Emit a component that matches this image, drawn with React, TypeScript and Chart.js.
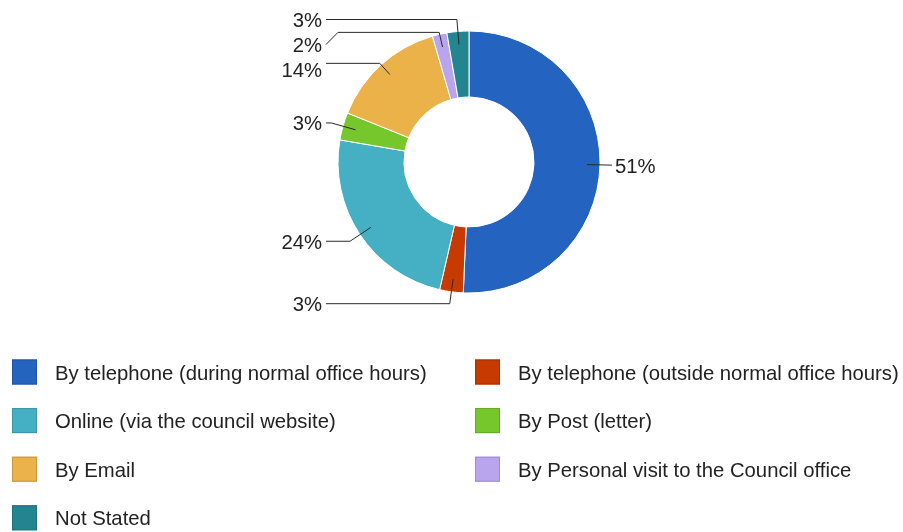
import React, { useEffect, useRef } from "react";
import { Chart, registerables } from "chart.js";

Chart.register(...registerables);

// ---- data ----
const categories = [
  "By telephone (during normal office hours)",
  "By telephone (outside normal office hours)",
  "Online (via the council website)",
  "By Post (letter)",
  "By Email",
  "By Personal visit to the Council office",
  "Not Stated",
];
const percentValues = [50.7, 2.9, 24.1, 3.4, 14.4, 1.8, 2.7];
const sliceColors = [
  "#2563c0",
  "#c73b02",
  "#45b0c3",
  "#76c72c",
  "#ebb249",
  "#b9a5ee",
  "#23858f",
];
const legendBorderColors = [
  "#1f53a3",
  "#a83100",
  "#3a96a6",
  "#64a925",
  "#c8973e",
  "#9d8ccb",
  "#1e7179",
];

const FONT_FAMILY = '"Liberation Sans", Arial, sans-serif';
const FONT_SIZE = 20.3;
const TEXT_COLOR = "#222222";
const LINE_COLOR = "#2a2a2a";

const leaderLabelPlugin = {
  id: "leaderLabels",
  afterDatasetsDraw(chart: any) {
    const ctx = chart.ctx as CanvasRenderingContext2D;
    const meta = chart.getDatasetMeta(0);
    const values = chart.data.datasets[0].data as number[];
    const items = meta.data.map((arc: any, i: number) => {
      const p = arc.getProps(["x", "y", "startAngle", "endAngle", "outerRadius"], true);
      const mid = (p.startAngle + p.endAngle) / 2;
      const ux = Math.cos(mid);
      const uy = Math.sin(mid);
      const R = p.outerRadius;
      return {
        i,
        cx: p.x,
        cy: p.y,
        R,
        ux,
        uy,
        ax: p.x + ux * (R - 13),
        ay: p.y + uy * (R - 13),
        ky: p.y + uy * (R + 12),
        right: ux >= 0,
        labelY: 0,
        text: Math.round(values[i]) + "%",
      };
    });
    // resolve collisions per side
    for (const side of [true, false]) {
      const group = items.filter((it: any) => it.right === side).sort((a: any, b: any) => a.ky - b.ky);
      let prev = -Infinity;
      for (const it of group) {
        it.labelY = Math.max(it.ky, prev + 25);
        prev = it.labelY;
      }
    }
    ctx.save();
    ctx.font = FONT_SIZE + "px " + FONT_FAMILY;
    ctx.lineWidth = 1;
    ctx.strokeStyle = LINE_COLOR;
    ctx.fillStyle = TEXT_COLOR;
    for (const it of items) {
      const { cx, cy, R, ux, uy } = it;
      let r = R + 12;
      if (Math.abs(uy) > 1e-3) {
        const need = (it.labelY - cy) / uy;
        r = Math.min(R + 12, Math.max(R + 2, need));
      }
      const kx = cx + ux * r;
      const ky = cy + uy * r;
      const dir = it.right ? 1 : -1;
      const endX = cx + dir * (R + 12);
      ctx.beginPath();
      ctx.moveTo(it.ax, it.ay);
      ctx.lineTo(kx, ky);
      if (Math.abs(ky - it.labelY) <= 8) {
        ctx.lineTo(endX, ky);
      } else {
        ctx.lineTo(endX - dir * 12, ky);
        ctx.lineTo(endX, it.labelY);
      }
      ctx.stroke();
      ctx.textBaseline = "alphabetic";
      if (it.right) {
        ctx.textAlign = "left";
        ctx.fillText(it.text, endX + 3, it.labelY + 7.5);
      } else {
        ctx.textAlign = "right";
        ctx.fillText(it.text, endX - 4, it.labelY + 7.5);
      }
    }
    ctx.restore();
  },
};

const gridLegendPlugin = {
  id: "gridLegend",
  afterDraw(chart: any) {
    const ctx = chart.ctx as CanvasRenderingContext2D;
    const labels = chart.data.labels as string[];
    const colXs = [12, 475];
    const firstRowY = 372;
    const rowStep = 48.6;
    const box = 25;
    ctx.save();
    ctx.font = FONT_SIZE + "px " + FONT_FAMILY;
    ctx.textAlign = "left";
    ctx.textBaseline = "alphabetic";
    labels.forEach((label, i) => {
      const col = i % 2;
      const row = Math.floor(i / 2);
      const x = colXs[col];
      const cy = firstRowY + row * rowStep;
      ctx.fillStyle = sliceColors[i];
      ctx.fillRect(x, cy - box / 2, box, box);
      ctx.strokeStyle = legendBorderColors[i];
      ctx.lineWidth = 1;
      ctx.strokeRect(x + 0.5, cy - box / 2 + 0.5, box - 1, box - 1);
      ctx.fillStyle = TEXT_COLOR;
      ctx.fillText(label, x + 43, cy + 7.5);
    });
    ctx.restore();
  },
};

export default function App() {
  const canvasRef = useRef<HTMLCanvasElement | null>(null);
  useEffect(() => {
    if (!canvasRef.current) return;
    const chart = new Chart(canvasRef.current, {
      type: "doughnut",
      data: {
        labels: categories,
        datasets: [
          {
            data: percentValues,
            backgroundColor: sliceColors,
            borderColor: "#ffffff",
            borderWidth: 1,
            hoverOffset: 0,
          },
        ],
      },
      options: {
        responsive: false,
        animation: false,
        devicePixelRatio: 1,
        radius: 131,
        cutout: "49.6%",
        layout: { padding: { left: 35, right: 0, top: 0, bottom: 208 } },
        plugins: {
          legend: { display: false },
          tooltip: { enabled: false },
        },
      } as any,
      plugins: [leaderLabelPlugin, gridLegendPlugin],
    });
    return () => chart.destroy();
  }, []);
  return (
    <div style={{ position: "fixed", left: 0, top: 0, width: 903, height: 532, background: "#ffffff" }}>
      <canvas ref={canvasRef} width={903} height={532} style={{ display: "block" }} />
    </div>
  );
}
